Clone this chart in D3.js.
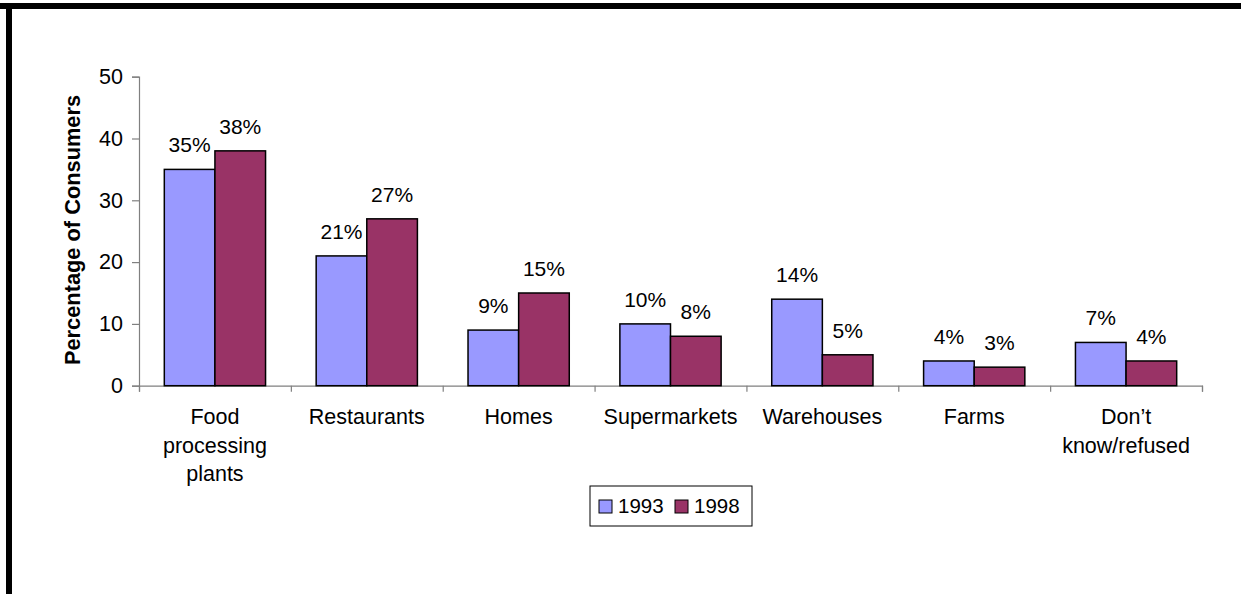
<!DOCTYPE html>
<html>
<head>
<meta charset="utf-8">
<script src="https://cdn.jsdelivr.net/npm/d3@7"></script>
<style>
  html, body { margin: 0; padding: 0; background: #fff; }
  svg { display: block; font-family: "Liberation Sans", Arial, sans-serif; }
</style>
</head>
<body>
<svg id="chart" width="1241" height="594"></svg>
<script>
const categories = [["Food", "processing", "plants"], ["Restaurants"], ["Homes"], ["Supermarkets"], ["Warehouses"], ["Farms"], ["Don\u2019t", "know/refused"]];
const series = ["1993", "1998"];
const values1993 = [35, 21, 9, 10, 14, 4, 7];
const values1998 = [38, 27, 15, 8, 5, 3, 4];
const yTicks = [0, 10, 20, 30, 40, 50];
const colors = ["#9999FF", "#993366"];

const svg = d3.select("#chart");

// frame lines
svg.append("rect").attr("x", 0).attr("y", 3).attr("width", 1241).attr("height", 6).attr("fill", "#000");
svg.append("rect").attr("x", 6).attr("y", 3).attr("width", 6).attr("height", 591).attr("fill", "#000");

const x0 = 139, x1 = 1202, y0 = 385.7, y1 = 76.7;
const x = d3.scaleBand().domain(d3.range(categories.length)).range([x0, x1]).paddingInner(0).paddingOuter(0);
const y = d3.scaleLinear().domain([0, 50]).range([y0, y1]);
const sub = d3.scaleBand().domain(series).range([0, x.bandwidth()]).paddingInner(0).paddingOuter(0.5);

const grey = "#808080";

// y axis
const yAxis = d3.axisLeft(y).tickValues(yTicks).tickSize(7).tickPadding(9).tickFormat(d3.format("d"));
const gy = svg.append("g").attr("transform", `translate(${x0},0)`).call(yAxis);
gy.select(".domain").attr("stroke", grey).attr("stroke-width", 1.2);
gy.selectAll(".tick line").attr("stroke", grey).attr("stroke-width", 1.2);
gy.selectAll(".tick text").attr("font-size", 21.5).attr("fill", "#000").attr("font-family", "Liberation Sans, Arial, sans-serif");

// x axis with ticks at band boundaries
const xEdges = d3.scaleLinear().domain([0, categories.length]).range([x0, x1]);
const xAxis = d3.axisBottom(xEdges).tickValues(d3.range(categories.length + 1)).tickSize(6).tickFormat("");
const gx = svg.append("g").attr("transform", `translate(0,${y0})`).call(xAxis);
gx.select(".domain").attr("stroke", grey).attr("stroke-width", 1.2);
gx.selectAll(".tick line").attr("stroke", grey).attr("stroke-width", 1.2);

// bars
const data = categories.map((c, i) => ({ i, vals: [values1993[i], values1998[i]] }));
const groups = svg.append("g").selectAll("g").data(data).join("g")
  .attr("transform", d => `translate(${x(d.i)},0)`);
groups.selectAll("rect").data(d => d.vals.map((v, k) => ({ v, k }))).join("rect")
  .attr("x", d => sub(series[d.k]))
  .attr("y", d => y(d.v))
  .attr("width", sub.bandwidth())
  .attr("height", d => y0 - y(d.v))
  .attr("fill", d => colors[d.k])
  .attr("stroke", "#000")
  .attr("stroke-width", 1.5);
groups.selectAll("text").data(d => d.vals.map((v, k) => ({ v, k }))).join("text")
  .attr("x", d => sub(series[d.k]) + sub.bandwidth() / 2)
  .attr("y", d => y(d.v) - 17)
  .attr("text-anchor", "middle")
  .attr("font-size", 21)
  .attr("fill", "#000")
  .text(d => d.v + "%");

// category labels
const cl = svg.append("g").selectAll("text").data(categories).join("text")
  .attr("x", (d, i) => x(i) + x.bandwidth() / 2)
  .attr("y", 424)
  .attr("text-anchor", "middle")
  .attr("font-size", 21.5)
  .attr("fill", "#000");
cl.selectAll("tspan").data(d => d).join("tspan")
  .attr("x", function () { return d3.select(this.parentNode).attr("x"); })
  .attr("dy", (d, j) => j === 0 ? 0 : 28.5)
  .text(d => d);

// y axis title
svg.append("text")
  .attr("transform", "translate(80,230) rotate(-90)")
  .attr("text-anchor", "middle")
  .attr("font-size", 21.8)
  .attr("font-weight", "bold")
  .attr("fill", "#000")
  .text("Percentage of Consumers");

// legend
const lg = svg.append("g");
lg.append("rect").attr("x", 590).attr("y", 486).attr("width", 162).attr("height", 40)
  .attr("fill", "#fff").attr("stroke", "#000").attr("stroke-width", 1);
const items = lg.selectAll("g").data(series).join("g")
  .attr("transform", (d, k) => `translate(${599 + k * 76},0)`);
items.append("rect").attr("x", 0).attr("y", 500).attr("width", 13).attr("height", 13)
  .attr("fill", (d, k) => colors[k]).attr("stroke", "#000").attr("stroke-width", 1);
items.append("text").attr("x", 19).attr("y", 513).attr("font-size", 20.5).attr("fill", "#000").text(d => d);
</script>
</body>
</html>
